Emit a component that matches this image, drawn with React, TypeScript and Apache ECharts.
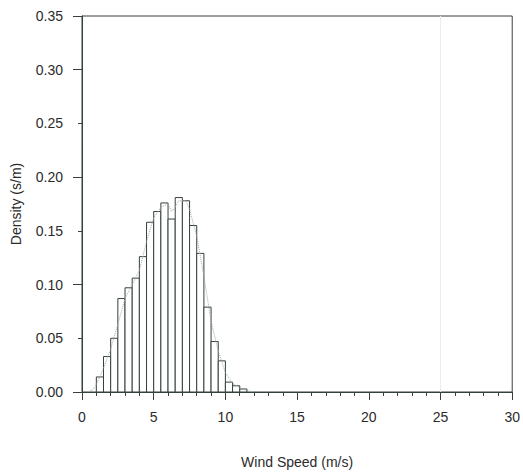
import React, { useEffect, useRef } from "react";
import * as echarts from "echarts";

// Histogram bins (left edge, m/s) and densities (s/m)
const BIN_WIDTH = 0.5;
const binStarts = [1.0, 1.5, 2.0, 2.5, 3.0, 3.5, 4.0, 4.5, 5.0, 5.5, 6.0, 6.5, 7.0, 7.5, 8.0, 8.5, 9.0, 9.5, 10.0, 10.5, 11.0];
const densities = [0.014, 0.033, 0.050, 0.087, 0.097, 0.106, 0.126, 0.158, 0.168, 0.176, 0.161, 0.181, 0.178, 0.155, 0.129, 0.079, 0.047, 0.029, 0.0092, 0.0058, 0.0028];

// Dotted fitted curve
const fitX = [0.4, 0.75, 1.0, 1.5, 2.0, 2.5, 3.0, 3.5, 4.0, 4.5, 5.0, 5.5, 6.0, 6.25, 6.5, 6.75, 7.25, 7.5, 8.0, 8.5, 9.0, 9.5, 10.0, 10.5, 11.0, 11.5, 11.9];
const fitY = [0.0, 0.002, 0.007, 0.022, 0.040, 0.063, 0.087, 0.100, 0.113, 0.140, 0.162, 0.172, 0.175, 0.168, 0.172, 0.178, 0.178, 0.170, 0.145, 0.108, 0.066, 0.038, 0.018, 0.008, 0.004, 0.0015, 0.0];

const xTicks = { min: 0, max: 30, interval: 5 };
const yTicks = { min: 0, max: 0.35, interval: 0.05 };

const LINE = "#34413f";
const TEXT = "#2b2b2b";
const FONT = "'Liberation Sans', Arial, sans-serif";

export default function App() {
  const ref = useRef<HTMLDivElement>(null);
  useEffect(() => {
    if (!ref.current) return;
    const chart = echarts.init(ref.current, null, { renderer: "svg" });
    const barData = binStarts.map((s, i) => [s, s + BIN_WIDTH, densities[i]]);
    const fitData = fitX.map((x, i) => [x, fitY[i]]);
    chart.setOption({
      animation: false,
      backgroundColor: "#ffffff",
      textStyle: { fontFamily: FONT },
      grid: {
        left: 82,
        right: 10,
        top: 16,
        bottom: 76,
        show: true,
        borderColor: LINE,
        borderWidth: 1,
        backgroundColor: "transparent",
      },
      xAxis: {
        type: "value",
        min: xTicks.min,
        max: xTicks.max,
        interval: xTicks.interval,
        name: "Wind Speed (m/s)",
        nameLocation: "middle",
        nameGap: 63,
        nameTextStyle: { fontSize: 14, color: TEXT, fontFamily: FONT },
        axisLine: { show: true, lineStyle: { color: LINE, width: 1 } },
        axisTick: { show: true, length: 8, lineStyle: { color: LINE } },
        minorTick: { show: true, splitNumber: 5, length: 4, lineStyle: { color: LINE } },
        axisLabel: { fontSize: 14, color: TEXT, margin: 18, fontFamily: FONT },
        splitLine: { show: false },
      },
      yAxis: [
        {
          type: "value",
          min: yTicks.min,
          max: yTicks.max,
          interval: yTicks.interval,
          name: "Density (s/m)",
          nameLocation: "middle",
          nameGap: 59,
          nameTextStyle: { fontSize: 14, color: TEXT, fontFamily: FONT },
          axisLine: { show: true, lineStyle: { color: LINE, width: 1 } },
          axisTick: { show: true, length: 4, lineStyle: { color: LINE } },
          axisLabel: {
            fontSize: 14,
            color: TEXT,
            margin: 19,
            fontFamily: FONT,
            formatter: (v: number) => v.toFixed(2),
          },
          splitLine: { show: false },
        },
        {
          type: "value",
          min: yTicks.min,
          max: yTicks.max,
          interval: yTicks.interval * 2,
          position: "left",
          axisLine: { show: false },
          axisTick: { show: true, length: 9, lineStyle: { color: LINE } },
          axisLabel: { show: false },
          splitLine: { show: false },
        },
      ],
      series: [
        {
          type: "custom",
          xAxisIndex: 0,
          yAxisIndex: 0,
          data: barData,
          encode: { x: [0, 1], y: 2 },
          renderItem: (params: any, api: any) => {
            const x0 = api.value(0);
            const x1 = api.value(1);
            const y = api.value(2);
            const p0 = api.coord([x0, y]);
            const p1 = api.coord([x1, 0]);
            return {
              type: "rect",
              shape: { x: p0[0], y: p0[1], width: p1[0] - p0[0], height: p1[1] - p0[1] },
              style: { fill: "#ffffff", stroke: LINE, lineWidth: 1 },
            };
          },
          z: 2,
        },
        {
          type: "line",
          xAxisIndex: 0,
          yAxisIndex: 0,
          data: fitData,
          showSymbol: false,
          symbol: "none",
          lineStyle: { color: "#a0a8a6", width: 1, type: "dotted" },
          z: 3,
          markLine: {
            silent: true,
            symbol: "none",
            label: { show: false },
            lineStyle: { color: "#ececec", width: 1, type: "solid" },
            data: [{ xAxis: 25 }],
          },
        },
      ],
    });
    return () => chart.dispose();
  }, []);
  return (
    <div
      ref={ref}
      style={{ position: "fixed", left: 0, top: 0, width: 523, height: 474, background: "#fff" }}
    />
  );
}
